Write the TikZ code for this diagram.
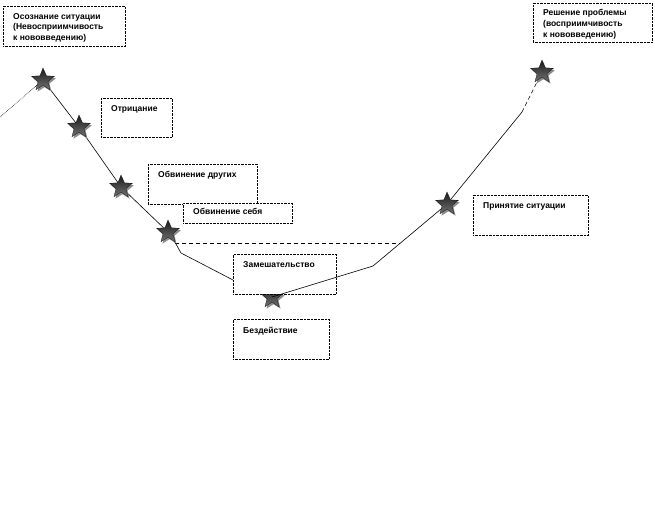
\documentclass[tikz,border=0pt]{standalone}
\usepackage{fontspec}
\setmainfont{Liberation Sans}
\usetikzlibrary{shapes.geometric,shadows,positioning}

\tikzset{
	stage/.style={draw=black, densely dotted, fill=white, anchor=north west, inner sep=0pt},%box of a stage
	stagetext/.style={anchor=north west, inner sep=0pt, align=left, font=\fontsize{8.5}{10.8}\selectfont\bfseries},
	starmark/.style={star, star points=5, star point ratio=2.3, minimum size=24pt, inner sep=0pt,
		draw=black, very thin, top color=black!90, bottom color=black!55,
		drop shadow={shadow xshift=1.5pt, shadow yshift=-2pt, fill=black!45, opacity=1}}
}

\begin{document}
\begin{tikzpicture}[x=1pt,y=-1pt]
			\useasboundingbox (0,0) rectangle (655,530);
			% bends of the curve
			\coordinate (lstart) at (0,117);
			\coordinate (bendA) at (176,244);
			\coordinate (bendB) at (181,253);
			\coordinate (bendC) at (233,280);
			\coordinate (bendD) at (373,266);
			\coordinate (bendE) at (522,112);
			\coordinate (dashL) at (175,243);
			\coordinate (dashR) at (400,243);
			% stars
			\path (43,80) coordinate (p1) (79,127) coordinate (p2) (121,187) coordinate (p3)
				(168,232) coordinate (p4) (272,297) coordinate (p5) (447,204) coordinate (p6) (542,72) coordinate (p7);
			\draw [black, line width=0.6pt, densely dotted] (lstart) -- (p1);
			\draw [black, line width=0.6pt] (p1) -- (p2) -- (p3) -- (p4) -- (bendA) -- (bendB) -- (bendC) -- (p5);
			\draw [black, line width=1pt, dash pattern=on 4pt off 3pt] (dashL) -- (dashR);
			\draw [black, line width=0.6pt] (bendD) -- (p6) -- (bendE);
			\draw [black, line width=0.6pt, dash pattern=on 4pt off 3pt] (bendE) -- (p7);
			\foreach \i in {1,...,7}
				\node [starmark] (s\i) at (p\i) {};
			% boxes
			\node [stage, minimum width=122pt, minimum height=40pt] (osoz) at (3,6) {};
			\node [stagetext] (osozT) at ([shift={(10pt,-7pt)}]osoz.north west) {Осознание ситуации\\(Невосприимчивость\\к нововведению)};
			\node [stage, minimum width=71pt, minimum height=39pt] (otr) at (101,98) {};
			\node [stagetext] (otrT) at ([shift={(10pt,-7pt)}]otr.north west) {Отрицание};
			\node [stage, minimum width=109pt, minimum height=40pt] (obvD) at (148,164) {};
			\node [stagetext] (obvDT) at ([shift={(10pt,-7pt)}]obvD.north west) {Обвинение других};
			\node [stage, minimum width=109pt, minimum height=20pt] (obvS) at (183,203) {};
			\node [stagetext] (obvST) at ([shift={(10pt,-5pt)}]obvS.north west) {Обвинение себя};
			\node [stage, minimum width=103pt, minimum height=40pt] (zam) at (233,254) {};
			\node [stagetext] (zamT) at ([shift={(10pt,-7pt)}]zam.north west) {Замешательство};
			\node [stage, minimum width=96pt, minimum height=40pt] (bez) at (233,319) {};
			\node [stagetext] (bezT) at ([shift={(10pt,-8pt)}]bez.north west) {Бездействие};
			\node [stage, minimum width=115pt, minimum height=40pt] (prin) at (473,195) {};
			\node [stagetext] (prinT) at ([shift={(10pt,-7pt)}]prin.north west) {Принятие ситуации};
			\node [stage, minimum width=119pt, minimum height=39pt] (resh) at (533,3) {};
			\node [stagetext] (reshT) at ([shift={(10pt,-6pt)}]resh.north west) {Решение проблемы\\(восприимчивость\\к нововведению)};
			% rising branch over the box
			\draw [black, line width=0.6pt] (s5.center) -- (bendD);
		\end{tikzpicture}
\end{document}
